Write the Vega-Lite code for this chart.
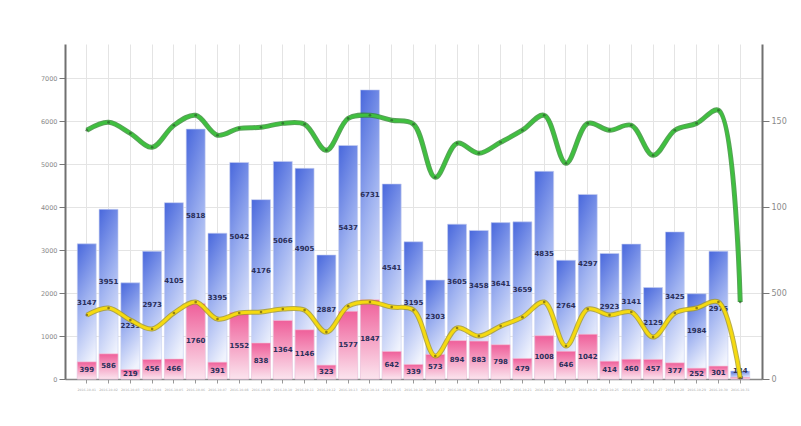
{
  "$schema": "https://vega.github.io/schema/vega-lite/v6.json",
  "autosize": {"type": "none"},
  "width": 697,
  "height": 335,
  "padding": {"left": 65, "top": 44, "right": 39, "bottom": 47},
  "background": "#ffffff",
  "config": {
    "view": {"stroke": null},
    "axis": {"labelFont": "DejaVu Sans", "labelColor": "#8a8a8a", "gridColor": "#e4e4e4", "gridWidth": 1, "tickColor": "#777777", "domainColor": "#777777"}
  },
  "data": {"values": [
    {"d": "2016-10-01", "total": 3147, "pink": 399, "green": 1448, "yellow": 372},
    {"d": "2016-10-02", "total": 3951, "pink": 586, "green": 1494, "yellow": 413},
    {"d": "2016-10-03", "total": 2239, "pink": 219, "green": 1430, "yellow": 343},
    {"d": "2016-10-04", "total": 2973, "pink": 456, "green": 1349, "yellow": 291},
    {"d": "2016-10-05", "total": 4105, "pink": 466, "green": 1477, "yellow": 384},
    {"d": "2016-10-06", "total": 5818, "pink": 1760, "green": 1535, "yellow": 448},
    {"d": "2016-10-07", "total": 3395, "pink": 391, "green": 1419, "yellow": 349},
    {"d": "2016-10-08", "total": 5042, "pink": 1552, "green": 1459, "yellow": 384},
    {"d": "2016-10-09", "total": 4176, "pink": 838, "green": 1465, "yellow": 390},
    {"d": "2016-10-10", "total": 5066, "pink": 1364, "green": 1488, "yellow": 407},
    {"d": "2016-10-11", "total": 4905, "pink": 1146, "green": 1483, "yellow": 401},
    {"d": "2016-10-12", "total": 2887, "pink": 323, "green": 1331, "yellow": 273},
    {"d": "2016-10-13", "total": 5437, "pink": 1577, "green": 1517, "yellow": 424},
    {"d": "2016-10-14", "total": 6731, "pink": 1847, "green": 1535, "yellow": 448},
    {"d": "2016-10-15", "total": 4541, "pink": 642, "green": 1506, "yellow": 419},
    {"d": "2016-10-16", "total": 3195, "pink": 339, "green": 1483, "yellow": 401},
    {"d": "2016-10-17", "total": 2303, "pink": 573, "green": 1174, "yellow": 134},
    {"d": "2016-10-18", "total": 3605, "pink": 894, "green": 1372, "yellow": 297},
    {"d": "2016-10-19", "total": 3458, "pink": 883, "green": 1314, "yellow": 250},
    {"d": "2016-10-20", "total": 3641, "pink": 798, "green": 1378, "yellow": 308},
    {"d": "2016-10-21", "total": 3659, "pink": 479, "green": 1448, "yellow": 360},
    {"d": "2016-10-22", "total": 4835, "pink": 1008, "green": 1535, "yellow": 448},
    {"d": "2016-10-23", "total": 2764, "pink": 646, "green": 1256, "yellow": 192},
    {"d": "2016-10-24", "total": 4297, "pink": 1042, "green": 1488, "yellow": 407},
    {"d": "2016-10-25", "total": 2923, "pink": 414, "green": 1448, "yellow": 372},
    {"d": "2016-10-26", "total": 3141, "pink": 460, "green": 1477, "yellow": 390},
    {"d": "2016-10-27", "total": 2129, "pink": 457, "green": 1302, "yellow": 244},
    {"d": "2016-10-28", "total": 3425, "pink": 377, "green": 1448, "yellow": 384},
    {"d": "2016-10-29", "total": 1984, "pink": 252, "green": 1488, "yellow": 413},
    {"d": "2016-10-30", "total": 2975, "pink": 301, "green": 1564, "yellow": 448},
    {"d": "2016-10-31", "total": 184, "pink": 38, "green": 448, "yellow": 5}
  ]},
  "encoding": {
    "x": {
      "field": "d", "type": "ordinal", "title": null,
      "scale": {"paddingInner": 0.13, "paddingOuter": 0.565},
      "axis": {"labelAngle": 0, "labelFontSize": 3.2, "labelColor": "#aaaaaa", "grid": true, "bandPosition": 0.5, "tickSize": 4, "tickColor": "#999999", "domainColor": "#888888", "domainWidth": 1.5, "labelPadding": 4}
    }
  },
  "layer": [
    {
      "encoding": {
        "y": {"type": "quantitative", "scale": {"domain": [0, 7800], "nice": false},
          "axis": {"orient": "left", "title": null, "format": "d", "values": [0, 1000, 2000, 3000, 4000, 5000, 6000, 7000], "labelFontSize": 6.5, "tickSize": 6, "domainWidth": 2, "domainColor": "#707070", "grid": true}}
      },
      "layer": [
        {
          "mark": {"type": "bar", "stroke": "#c8d0f0", "strokeWidth": 0.6,
            "color": {"gradient": "linear", "x1": 0, "y1": 0, "x2": 0.25, "y2": 1,
              "stops": [{"offset": 0, "color": "#4867dc"}, {"offset": 0.5, "color": "#9fb2f0"}, {"offset": 1, "color": "#f0f3fd"}]}},
          "encoding": {"y": {"field": "total", "type": "quantitative"}}
        },
        {
          "mark": {"type": "bar", "stroke": "#f5c5d8", "strokeWidth": 0.6,
            "color": {"gradient": "linear", "x1": 0, "y1": 0, "x2": 0, "y2": 1,
              "stops": [{"offset": 0, "color": "#ef5f9a"}, {"offset": 1, "color": "#fbe4ee"}]}},
          "encoding": {"y": {"field": "pink", "type": "quantitative"}}
        }
      ]
    },
    {
      "encoding": {
        "y": {"type": "quantitative", "scale": {"domain": [0, 15600], "nice": false}, "axis": null}
      },
      "layer": [
        {
          "mark": {"type": "text", "font": "DejaVu Sans", "fontWeight": "bold", "color": "#2a2f5a", "baseline": "middle"},
          "encoding": {
            "y": {"field": "pink", "type": "quantitative"},
            "text": {"field": "pink", "type": "quantitative", "format": "d"},
            "size": {"condition": {"test": "datum.pink < 100", "value": 4}, "value": 7}
          }
        },
        {
          "transform": [
            {"filter": "datum.total >= 500"},
            {"fold": ["total", "pink"], "as": ["k", "v"]},
            {"aggregate": [{"op": "sum", "field": "v", "as": "s"}, {"op": "max", "field": "total", "as": "t"}], "groupby": ["d"]}
          ],
          "mark": {"type": "text", "fontSize": 7, "font": "DejaVu Sans", "fontWeight": "bold", "color": "#2a2f5a", "baseline": "middle"},
          "encoding": {"y": {"field": "s", "type": "quantitative"}, "text": {"field": "t", "type": "quantitative", "format": "d"}}
        },
        {
          "transform": [
            {"filter": "datum.total < 500"},
            {"fold": ["total", "pink"], "as": ["k", "v"]},
            {"aggregate": [{"op": "sum", "field": "v", "as": "s"}, {"op": "max", "field": "total", "as": "t"}], "groupby": ["d"]}
          ],
          "mark": {"type": "text", "fontSize": 7, "font": "DejaVu Sans", "fontWeight": "bold", "color": "#2a2f5a", "baseline": "bottom"},
          "encoding": {"y": {"field": "s", "type": "quantitative"}, "text": {"field": "t", "type": "quantitative", "format": "d"}}
        }
      ]
    },
    {
      "encoding": {
        "y": {"type": "quantitative", "scale": {"domain": [0, 1950], "nice": false},
          "axis": {"orient": "right", "title": null, "format": "d", "values": [0, 500, 1000, 1500], "labelExpr": "substring(datum.label, 0, 3)", "labelFontSize": 8, "tickSize": 7, "domainWidth": 2, "domainColor": "#707070", "grid": false}}
      },
      "layer": [
        {"mark": {"type": "line", "interpolate": "catmull-rom", "color": "#2f8a2f", "strokeWidth": 5, "opacity": 0.8}, "encoding": {"y": {"field": "green", "type": "quantitative"}}},
        {"mark": {"type": "line", "interpolate": "catmull-rom", "color": "#3fc03f", "strokeWidth": 3}, "encoding": {"y": {"field": "green", "type": "quantitative"}}},
        {"mark": {"type": "point", "filled": true, "size": 7, "color": "#2d5a2d", "opacity": 0.7}, "encoding": {"y": {"field": "green", "type": "quantitative"}}},
        {"mark": {"type": "line", "interpolate": "catmull-rom", "color": "#a89a20", "strokeWidth": 5, "opacity": 0.8}, "encoding": {"y": {"field": "yellow", "type": "quantitative"}}},
        {"mark": {"type": "line", "interpolate": "catmull-rom", "color": "#f5da10", "strokeWidth": 3}, "encoding": {"y": {"field": "yellow", "type": "quantitative"}}},
        {"mark": {"type": "point", "filled": true, "size": 7, "color": "#6a5a10", "opacity": 0.7}, "encoding": {"y": {"field": "yellow", "type": "quantitative"}}}
      ]
    }
  ],
  "resolve": {"scale": {"y": "independent"}, "axis": {"y": "independent"}}
}
